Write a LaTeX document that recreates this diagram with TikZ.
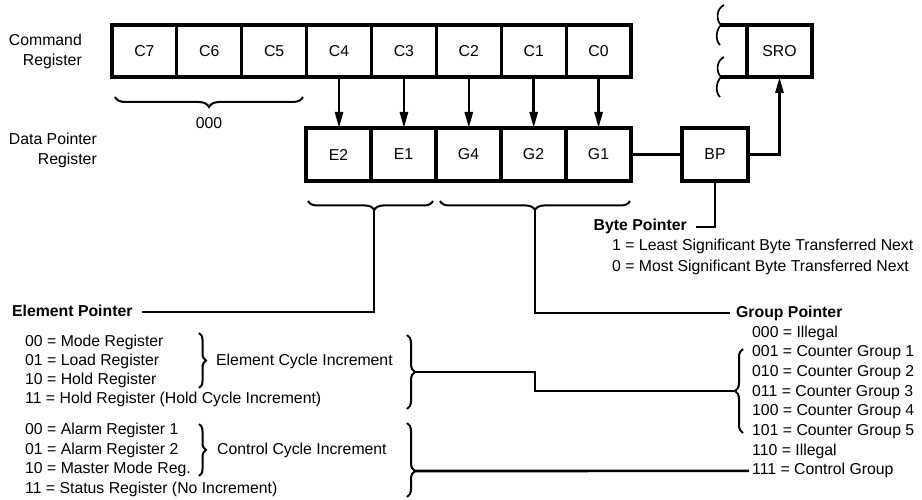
\documentclass[tikz,border=0pt]{standalone}
\usepackage{fontspec}
\setmainfont{Liberation Sans}
\usetikzlibrary{arrows.meta,decorations.pathreplacing,calc}
\begin{document}
\begin{tikzpicture}[x=1pt,y=-1pt,
  font=\fontsize{15.8}{20}\selectfont,
  cell/.style={draw,line width=3.1pt,minimum width=64.9pt,minimum height=52pt,inner sep=0pt,outer sep=0pt},
  txt/.style={inner sep=0pt,text height=11pt,text depth=3pt},
  ttl/.style={font=\fontsize{15.8}{20}\selectfont\bfseries},
  conn/.style={line width=2.6pt},
  arr/.style={conn,-{Triangle[length=16pt,width=8pt]}},
  brc/.style={line width=2pt,decorate,decoration={brace,amplitude=#1pt}},
  brc/.default=8,
  brk/.style={line width=1.7pt}]
\useasboundingbox (0,0) rectangle (922,500);

% Register labels
\node[anchor=east,align=right,inner sep=0pt] (cr) at (82,51) {Command\\Register};
\node[anchor=east,align=right,inner sep=0pt] (dpr) at (97,150) {Data Pointer\\Register};

% Command register
\foreach \l [count=\i from 0] in {C7,C6,C5,C4,C3,C2,C1,C0}
  \node[cell] (\l) at ({112+64.875*(\i+0.5)},51) {\l};

% Data pointer register
\foreach \l [count=\i from 0] in {E2,E1,G4,G2,G1}
  \node[cell,minimum width=65pt,minimum height=53pt] (\l) at ({306+65*(\i+0.5)},154.5) {\l};

\foreach \a/\b in {C4/E2,C3/E1,C2/G4,C1/G2,C0/G1}
  \draw[arr] (\a.south) -- (\a.south |- \b.north);

% BP and SRO
\node[cell,minimum width=66pt,minimum height=53pt] (BP) at (715,154.5) {BP};
\node[cell,minimum width=65pt,minimum height=52pt] (SRO) at (779.5,51) {SRO};
\coordinate (k1) at (721,25);
\coordinate (k2) at (721,77);
\draw[line width=3.1pt] (k1) -- (SRO.north west);
\draw[line width=3.1pt] (k2) -- (SRO.south west);
\draw[brk] (724,5) .. controls (716,9) and (716,20) .. (k1) .. controls (716,30) and (715,40) .. (720,45);
\draw[brk] (724,57) .. controls (716,61) and (716,72) .. (k2) .. controls (716,82) and (715,92) .. (720,97);

\draw[conn] (G1) -- (BP);
\draw[arr] (BP.east) -| (SRO.south);

% Byte pointer
\node[txt,ttl,anchor=east] (bpt) at (687,227) {Byte Pointer};
\draw[conn] (BP.south) |- ([xshift=9pt]bpt.east);
\node[txt,anchor=west] (b1) at (612,247) {1 = Least Significant Byte Transferred Next};
\node[txt,anchor=west] (b0) at (612,267) {0 = Most Significant Byte Transferred Next};

% Brace under C7..C5
\draw[brc=10] (303,97) -- (115,97);
\node[txt] (z) at (209,125) {000};

% Braces under data pointer register
\draw[brc=9,decoration={aspect=0.47}] (433,201) -- (308,201);
\coordinate (etip) at (374,210);
\draw[brc=9] (630,201) -- (440,201);
\coordinate (gtip) at (535,210);

% Element pointer
\node[txt,ttl,anchor=west] (ept) at (12,312) {Element Pointer};
\draw[conn] (etip) |- ([xshift=9pt]ept.east);
\foreach \t/\y [count=\i] in {{00 = Mode Register}/342,{01 = Load Register}/361,{10 = Hold Register}/380,{11 = Hold Register (Hold Cycle Increment)}/399,{00 = Alarm Register 1}/430,{01 = Alarm Register 2}/450,{10 = Master Mode Reg.}/469,{11 = Status Register (No Increment)}/489}
  \node[txt,anchor=west] (e\i) at (25,\y) {\t};

\draw[brc=7] (199,333) -- (199,388);
\node[txt,anchor=west] (eci) at (216,361) {Element Cycle Increment};
\draw[brc=7] (199,424) -- (199,476);
\node[txt,anchor=west] (cci) at (217,450) {Control Cycle Increment};

\draw[brc=8] (407,335) -- (407,409);
\coordinate (b1tip) at (415,372);
\draw[brc=8,decoration={aspect=0.649}] (407,423) -- (407,497);
\coordinate (b2tip) at (415,471);

% Group pointer
\node[txt,ttl,anchor=west] (gpt) at (736,313) {Group Pointer};
\draw[conn] (gtip) |- ([xshift=-6pt]gpt.west);
\foreach \t [count=\i from 0] in {000 = Illegal,001 = Counter Group 1,010 = Counter Group 2,011 = Counter Group 3,100 = Counter Group 4,101 = Counter Group 5,110 = Illegal,111 = Control Group}
  \node[txt,anchor=west] (g\i) at (752,{333+19.7*\i}) {\t};

\draw[brc=8] (743,433) -- (743,349);
\coordinate (gbtip) at (735,391);

\draw[conn] (b1tip) -- (b1tip -| gtip) |- (gbtip);
\draw[conn] (b2tip) -- ([xshift=-3pt]g7.west);
\end{tikzpicture}
\end{document}
